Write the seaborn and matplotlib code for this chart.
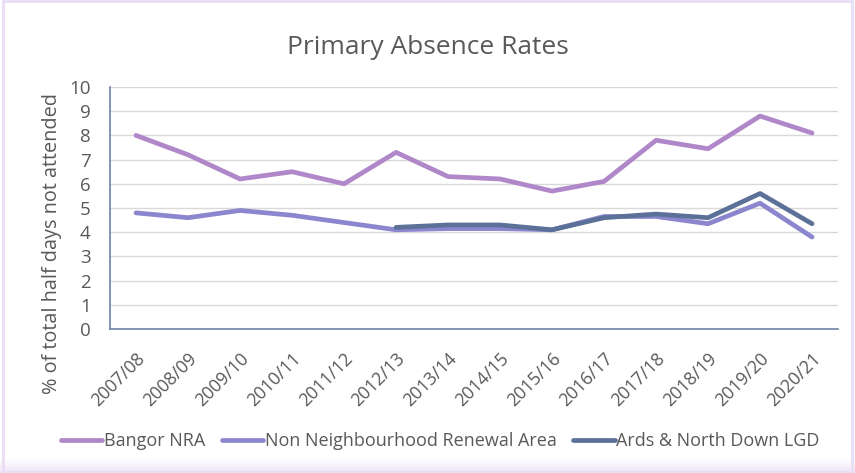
import matplotlib
matplotlib.use("Agg")
import matplotlib.pyplot as plt
import seaborn as sns
import pandas as pd
import numpy as np
from matplotlib.patches import Rectangle

years = ["2007/08", "2008/09", "2009/10", "2010/11", "2011/12", "2012/13", "2013/14",
         "2014/15", "2015/16", "2016/17", "2017/18", "2018/19", "2019/20", "2020/21"]
bangor_nra = [8.0, 7.2, 6.2, 6.5, 6.0, 7.3, 6.3, 6.2, 5.7, 6.1, 7.8, 7.45, 8.8, 8.1]
non_nra = [4.8, 4.6, 4.9, 4.7, 4.4, 4.1, 4.15, 4.15, 4.1, 4.65, 4.65, 4.35, 5.2, 3.8]
ards_lgd = [np.nan, np.nan, np.nan, np.nan, np.nan, 4.2, 4.3, 4.3, 4.1, 4.6, 4.75, 4.6, 5.6, 4.35]

series = ["Bangor NRA", "Non Neighbourhood Renewal Area", "Ards & North Down LGD"]
colors = ["#B087C9", "#8C86CE", "#5B7198"]

df = pd.DataFrame({
    "year": years * 3,
    "x": list(range(len(years))) * 3,
    "value": bangor_nra + non_nra + ards_lgd,
    "series": [series[0]] * 14 + [series[1]] * 14 + [series[2]] * 14,
})

sns.set_theme(style="white")
plt.rcParams['font.family'] = ['Open Sans', 'DejaVu Sans']
text_col = "#595959"

fig = plt.figure(figsize=(8.55, 4.73), dpi=100)
ax = fig.add_axes([0.1287, 0.3044, 0.8515, 0.5116])

sns.lineplot(data=df, x="x", y="value", hue="series", hue_order=series,
             palette=colors, linewidth=3.4, ax=ax, legend=False,
             solid_capstyle="round", solid_joinstyle="round")

ax.set_xlim(-0.5, 13.5)
ax.set_ylim(0, 10)
ax.set_yticks(range(0, 11))
ax.set_xticks(range(len(years)))
ax.set_xticklabels(years, rotation=45, ha="right", rotation_mode="anchor")
ax.tick_params(axis="y", colors=text_col, labelsize=13.5, length=0, pad=14)
ax.tick_params(axis="x", colors=text_col, labelsize=12.8, length=0, pad=15)
ax.yaxis.grid(True, color="#D9D9D9", linewidth=1)
ax.set_axisbelow(True)
for s in ["top", "right"]:
    ax.spines[s].set_visible(False)
for s in ["left", "bottom"]:
    ax.spines[s].set_color("#6F84A8")
    ax.spines[s].set_linewidth(1.2)
ax.set_xlabel("")
ax.set_ylabel("% of total half days not attended", fontsize=14.3, color=text_col)
ax.yaxis.set_label_coords(-0.066, 0.355)
fig.suptitle("Primary Absence Rates", fontsize=19, color=text_col, y=0.925)

handles = [plt.Line2D([], [], color=c, linewidth=3.4, solid_capstyle="round") for c in colors]
fig.legend(handles, series, loc="center", bbox_to_anchor=(0.515, 0.068), ncol=3, frameon=False,
           fontsize=13, handlelength=2.3, handletextpad=0.1, columnspacing=0.9,
           labelcolor=text_col)

# light purple frame and soft band at the bottom
fig.patches.append(Rectangle((0.003, 0.003), 0.994, 0.994, transform=fig.transFigure,
                             fill=False, edgecolor="#E9DDF5", linewidth=2))
grad = np.linspace(0, 1, 50).reshape(-1, 1)
band = fig.add_axes([0.0, 0.0, 1.0, 0.03])
band.imshow(grad, aspect="auto", cmap=matplotlib.colors.LinearSegmentedColormap.from_list(
    "b", ["#EEE4F8", "#FFFFFF"]), origin="lower", extent=[0, 1, 0, 1])
band.axis("off")

fig.savefig("out.png", dpi=100)
